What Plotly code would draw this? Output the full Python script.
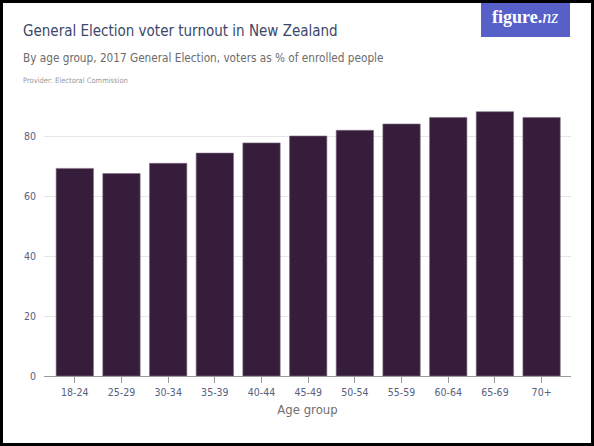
"""
General Election voter turnout in New Zealand, by age group (2017).
"""

import plotly.graph_objects as go

age_groups = ["18-24", "25-29", "30-34", "35-39", "40-44", "45-49",
              "50-54", "55-59", "60-64", "65-69", "70+"]
turnout_pct = [69.2, 67.5, 70.9, 74.3, 77.7, 80.0, 81.9, 84.0, 86.2, 88.1, 86.2]
y_ticks = [0, 20, 40, 60, 80]

FONT = "Liberation Sans Narrow, DejaVu Sans Condensed, Roboto, sans-serif"

W, H = 594, 446
L, R, T, B = 44, 23, 106, 70
PW, PH = W - L - R, H - T - B


def px_x(px):
    # pixel -> paper x
    return (px - L) / PW


def px_y(py):
    # pixel (from top) -> paper y
    return (H - B - py) / PH


fig = go.Figure()

fig.add_trace(
    go.Bar(
        x=age_groups,
        y=turnout_pct,
        marker=dict(color="#361d3b", line=dict(color="#7d6c82", width=0.6)),
        hoverinfo="x+y",
    )
)

fig.update_layout(
    width=W,
    height=H,
    margin=dict(l=L, r=R, t=T, b=B),
    paper_bgcolor="white",
    plot_bgcolor="white",
    showlegend=False,
    bargap=0.2,
    font=dict(family=FONT),
    xaxis=dict(
        range=[-0.66, 10.63],
        showgrid=False,
        showline=True,
        linecolor="#9a9a9a",
        linewidth=1,
        ticks="outside",
        ticklen=6,
        tickcolor="#9a9a9a",
        tickfont=dict(size=10.5, color="#56617f"),
        title=dict(text="Age group", font=dict(size=13, color="#6f6f6f"), standoff=8),
        fixedrange=True,
    ),
    yaxis=dict(
        range=[0, 90],
        tickvals=y_ticks,
        showgrid=True,
        gridcolor="#e6e6e6",
        gridwidth=1,
        zeroline=False,
        showline=False,
        ticks="",
        ticklabelstandoff=7,
        tickfont=dict(size=10.5, color="#56617f"),
        fixedrange=True,
    ),
)

# header text
fig.add_annotation(
    text="General Election voter turnout in New Zealand",
    xref="paper", yref="paper", x=px_x(21), y=px_y(31),
    xanchor="left", yanchor="middle", showarrow=False,
    font=dict(size=15, color="#3b476a", family=FONT),
)
fig.add_annotation(
    text="By age group, 2017 General Election, voters as % of enrolled people",
    xref="paper", yref="paper", x=px_x(21), y=px_y(58),
    xanchor="left", yanchor="middle", showarrow=False,
    font=dict(size=11.7, color="#6b6b6b", family=FONT),
)
fig.add_annotation(
    text="Provider: Electoral Commission",
    xref="paper", yref="paper", x=px_x(21), y=px_y(80),
    xanchor="left", yanchor="middle", showarrow=False,
    font=dict(size=7.5, color="#9a9a9a", family=FONT),
)

# figure.nz logo box
fig.add_shape(
    type="rect", xref="paper", yref="paper",
    x0=px_x(481), x1=px_x(570), y0=px_y(37), y1=px_y(2),
    fillcolor="#5660c8", line=dict(width=0), layer="above",
)
fig.add_annotation(
    text="<b>figure.</b><i>nz</i>",
    xref="paper", yref="paper", x=px_x(525), y=px_y(17),
    xanchor="center", yanchor="middle", showarrow=False,
    font=dict(size=18, color="white", family="Liberation Serif, DejaVu Serif, serif"),
)

# black frame round the picture
fig.add_shape(
    type="rect", xref="paper", yref="paper",
    x0=px_x(0), x1=px_x(W), y0=px_y(H), y1=px_y(0),
    line=dict(color="black", width=6), fillcolor="rgba(0,0,0,0)", layer="above",
)

# drop the browser's default body margin so the figure sits at the top left
fig.write_html(
    "out.html",
    config={"displayModeBar": False},
    post_script="document.body.style.margin='0';",
)
